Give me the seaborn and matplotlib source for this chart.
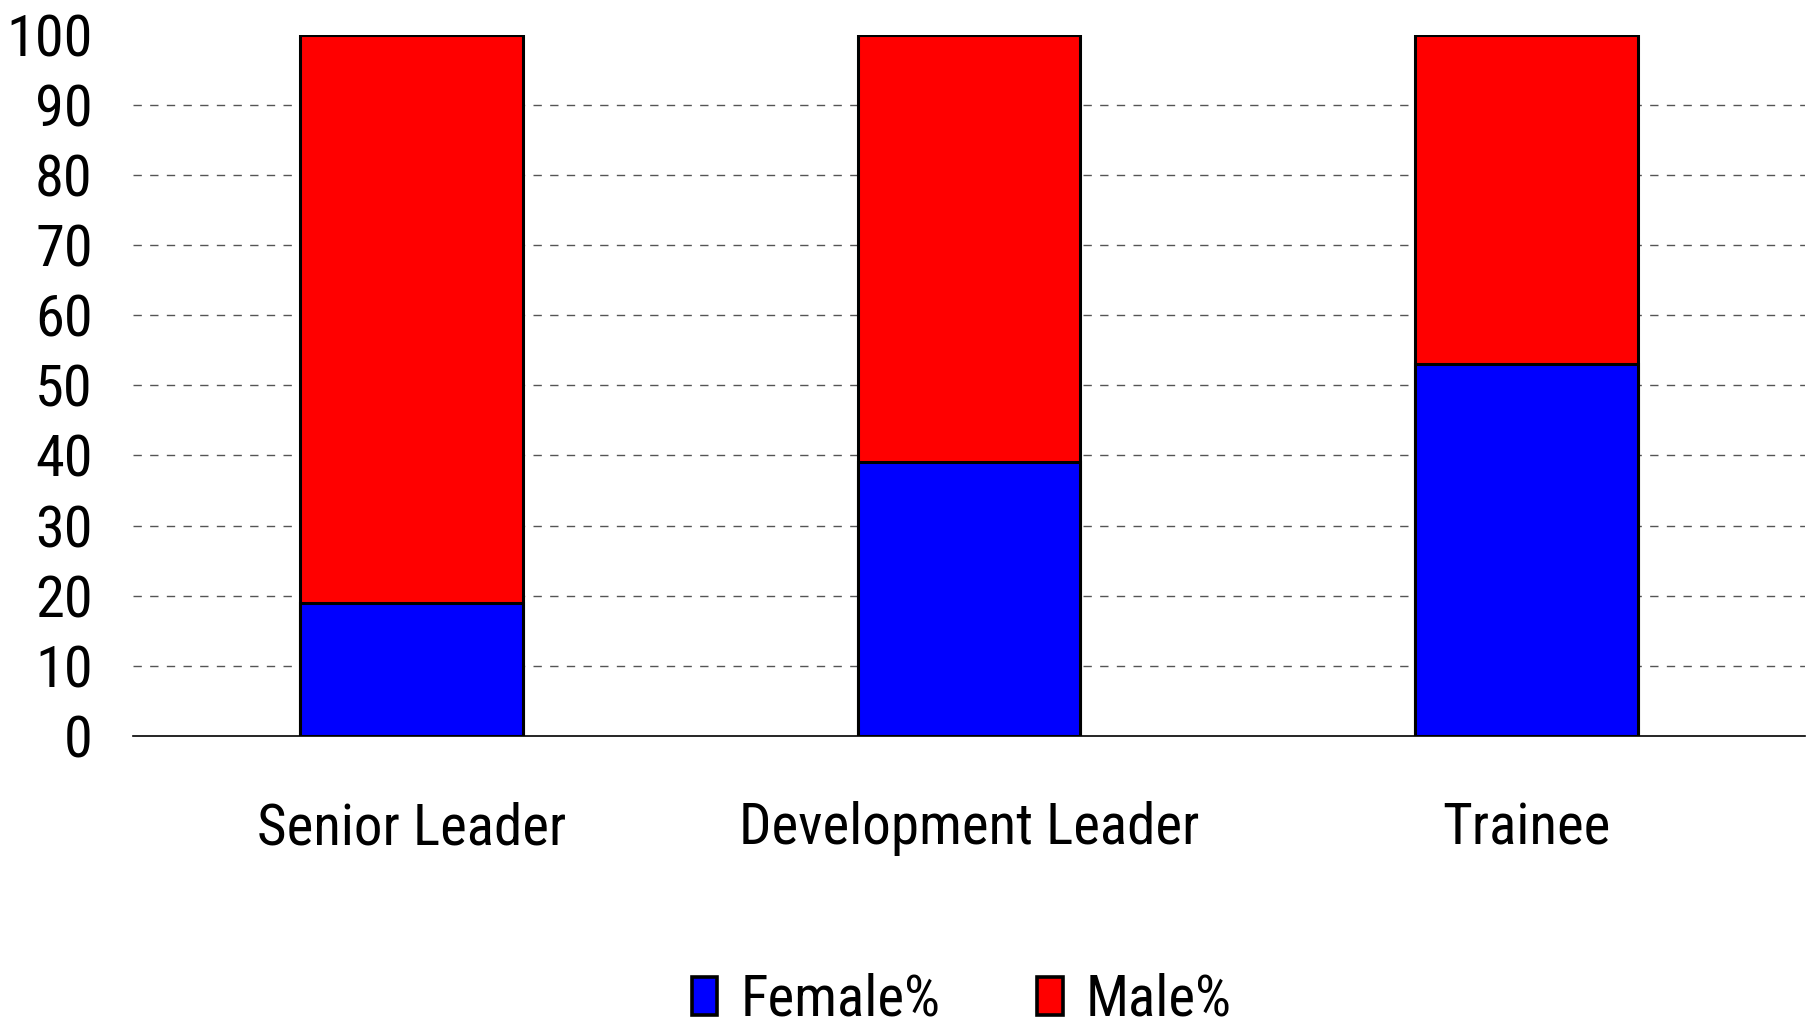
import matplotlib
matplotlib.use("Agg")
import matplotlib.pyplot as plt
from matplotlib import font_manager
from matplotlib.patches import Patch
import seaborn as sns
import pandas as pd

categories = ["Senior Leader", "Development Leader", "Trainee"]
female_pct = [19, 39, 53]
male_pct = [81, 61, 47]
y_ticks = [0, 10, 20, 30, 40, 50, 60, 70, 80, 90, 100]

sns.set_theme(style="white")
names = {f.name for f in font_manager.fontManager.ttflist}
prefs = ["Liberation Sans Narrow", "Nimbus Sans Narrow", "Arial Narrow", "Helvetica Narrow",
         "Roboto Condensed", "Archivo Narrow", "PT Sans Narrow", "Pragati Narrow",
         "Asap Condensed", "Liberation Sans"]
fam = next((p for p in prefs if p in names), "DejaVu Sans")
plt.rcParams["font.family"] = [fam, "DejaVu Sans"]
plt.rcParams["text.color"] = "black"

df = pd.DataFrame({"category": categories, "female": female_pct, "male": male_pct})
df["total"] = df["female"] + df["male"]

fig = plt.figure(figsize=(18.11, 10.29), dpi=100)
ax = fig.add_axes([0.0734, 0.285, 0.9233, 0.681])

# dashed gridlines (style only, behind bars)
for v in y_ticks[1:-1]:
    ax.axhline(v, linestyle=(0, (6, 6)), color="#555555", linewidth=1.0, zorder=0)

sns.barplot(data=df, x="category", y="total", color="#FF0000", saturation=1,
            edgecolor="black", linewidth=2.2, width=0.4, ax=ax, zorder=3)
sns.barplot(data=df, x="category", y="female", color="#0000FF", saturation=1,
            edgecolor="black", linewidth=2.2, width=0.4, ax=ax, zorder=4)

ax.set_xlim(-0.5, 2.5)
ax.set_ylim(0, 100)
ax.set_yticks(y_ticks)
ax.grid(False)
for s in ["left", "right", "top"]:
    ax.spines[s].set_visible(False)
ax.spines["bottom"].set_color("black")
ax.spines["bottom"].set_linewidth(1.2)
ax.spines["bottom"].set_zorder(5)
ax.tick_params(axis="y", length=0, labelsize=42, pad=29, labelcolor="black")
ax.tick_params(axis="x", length=0, labelsize=41, pad=47, labelcolor="black")
ax.set_xlabel("")
ax.set_ylabel("")

handles = [Patch(facecolor="#0000FF", edgecolor="black", linewidth=2.6, label="Female%"),
           Patch(facecolor="#FF0000", edgecolor="black", linewidth=2.6, label="Male%")]
leg = fig.legend(handles=handles, loc="center", bbox_to_anchor=(0.531, 0.028), ncol=2,
                 frameon=False, fontsize=41, handlelength=0.45, handleheight=0.65,
                 handletextpad=0.4, columnspacing=1.7, borderpad=0.2)
for t in leg.get_texts():
    t.set_color("black")

fig.savefig("out.png", dpi=100, facecolor="white")
